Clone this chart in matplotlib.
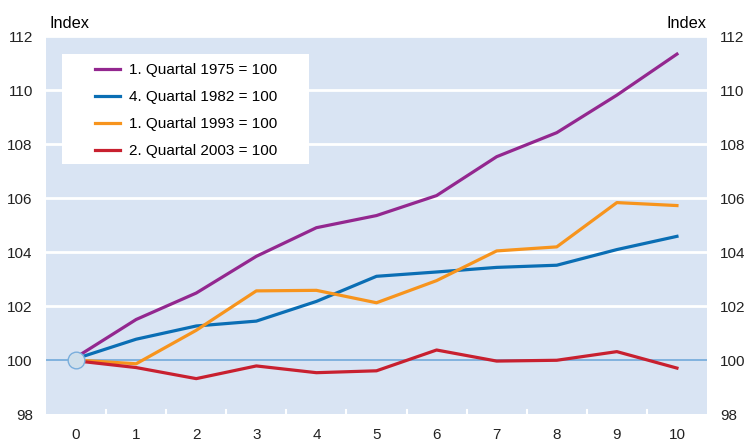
import numpy as np
import matplotlib
matplotlib.use('Agg')
import matplotlib.pyplot as plt
from matplotlib.patches import Rectangle

# Quarters after base period
quarters = list(range(11))

# Index values (base quarter = 100)
q1_1975 = [100.1, 101.5, 102.48, 103.84, 104.9, 105.35, 106.09, 107.53, 108.42, 109.81, 111.33]
q4_1982 = [100.05, 100.77, 101.26, 101.44, 102.17, 103.1, 103.26, 103.43, 103.51, 104.09, 104.58]
q1_1993 = [100.0, 99.86, 101.1, 102.56, 102.58, 102.12, 102.94, 104.04, 104.19, 105.83, 105.72]
q2_2003 = [99.97, 99.72, 99.31, 99.78, 99.53, 99.6, 100.37, 99.96, 99.99, 100.31, 99.7]

labels = ['1. Quartal 1975 = 100', '4. Quartal 1982 = 100',
          '1. Quartal 1993 = 100', '2. Quartal 2003 = 100']
colors = ['#93278f', '#0a6eb4', '#f7941d', '#c8202f']
series = [q1_1975, q4_1982, q1_1993, q2_2003]

yticks = [98, 100, 102, 104, 106, 108, 110, 112]

plt.rcParams['font.family'] = ['Liberation Sans', 'DejaVu Sans']

fig = plt.figure(figsize=(7.52, 4.44), dpi=100)
ax = fig.add_axes([46 / 752, 30 / 444, 661 / 752, 378 / 444])
ax.set_facecolor('#d9e4f3')

for v in yticks[2:]:
    ax.axhline(v, color='white', lw=2, zorder=1)
ax.axhline(100, color='#7aaedc', lw=1.3, zorder=1)

for ys, c, lab in zip(series, colors, labels):
    ax.plot(quarters, ys, color=c, lw=2.3, label=lab, zorder=3)

ax.plot([0], [100], 'o', ms=12, mfc='#cfdfeb', mec='#7aaedc', mew=1, zorder=4)

ax.set_xlim(-0.5, 10.5)
ax.set_ylim(98, 112)
ax.set_xticks(quarters)
ax.set_yticks(yticks)
ax.tick_params(axis='both', length=0, labelsize=11, colors='#222222')
ax.tick_params(axis='x', pad=10)
ax.tick_params(axis='y', pad=9.5, labelright=True)
for sp in ax.spines.values():
    sp.set_visible(False)

# small white separators at the bottom between categories
for xm in np.arange(0.5, 10, 1):
    ax.plot([xm, xm], [98, 98.15], color='white', lw=1.5, zorder=2, clip_on=False)

ax.text(0.006, 1.012, 'Index', transform=ax.transAxes, ha='left', va='bottom', fontsize=11.8)
ax.text(0.999, 1.012, 'Index', transform=ax.transAxes, ha='right', va='bottom', fontsize=11.8)

# legend box
ax.add_patch(Rectangle(((62 - 46) / 661, (414 - 164) / 378), 247 / 661, 110 / 378,
                       transform=ax.transAxes, facecolor='white', edgecolor='none', zorder=5))
leg = ax.legend(loc='upper left', bbox_to_anchor=((95 - 46) / 661, (414 - 63) / 378),
                borderaxespad=0, frameon=False, handlelength=1.65, handletextpad=0.55,
                labelspacing=0.86, fontsize=11, borderpad=0)
leg.set_zorder(6)

fig.savefig('out.png', dpi=100)
